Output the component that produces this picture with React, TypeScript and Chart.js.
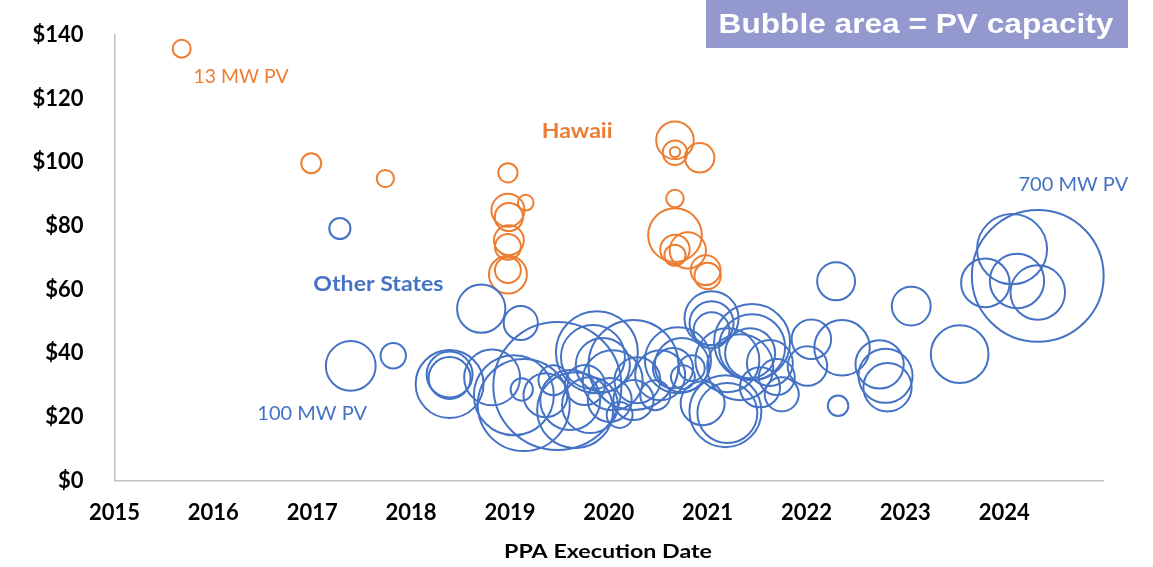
import React, { useEffect, useRef } from 'react';
import { Chart, registerables } from 'chart.js';

Chart.register(...registerables);

// ---- Data ----
const xTickValues = [2015, 2016, 2017, 2018, 2019, 2020, 2021, 2022, 2023, 2024];
const yTickValues = [0, 20, 40, 60, 80, 100, 120, 140];

// Hawaii (PPA execution date as decimal year, price $/MWh, PV capacity MW)
const hawaiiDate = [
  2015.68, 2016.99, 2017.74, 2018.98, 2019.16, 2018.98, 2018.99, 2018.99, 2018.98, 2018.98, 2018.98,
  2020.67, 2020.67, 2020.67, 2020.92, 2020.67, 2020.67, 2020.80, 2020.67, 2020.67, 2020.98, 2021.0,
];
const hawaiiPrice = [
  135.7, 99.7, 94.9, 96.7, 87.3, 84.9, 82.8, 75.5, 73.4, 64.7, 66.1,
  106.9, 103.0, 103.2, 101.4, 88.6, 77.1, 72.3, 72.6, 70.8, 66.1, 64.3,
];
const hawaiiMW = [
  13, 16, 12, 15, 10, 44, 32, 36, 27, 58, 27,
  57, 24, 4.4, 35, 12.5, 116, 53, 35, 18, 36, 28,
];

// Other States
const otherDate = [
  2017.28, 2017.39, 2017.82, 2018.71, 2019.11, 2022.30, 2023.06, 2023.55, 2024.34, 2024.08,
  2023.81, 2024.13, 2024.34, 2022.32, 2022.36, 2022.05, 2022.01, 2022.74, 2022.80, 2022.82,
  2021.75, 2018.39, 2018.39, 2018.39, 2018.82, 2019.12, 2019.04, 2019.14, 2019.48, 2019.44,
  2019.36, 2019.61, 2019.66, 2019.81, 2019.88, 2019.84, 2019.94, 2019.76, 2020.01, 2020.11,
  2020.04, 2020.25, 2020.29, 2020.25, 2020.70, 2020.74, 2020.65, 2020.84, 2020.75, 2021.04,
  2021.04, 2021.04, 2021.20, 2021.33, 2021.45, 2021.45, 2021.43, 2021.53, 2021.18, 2021.20,
  2020.95, 2021.70, 2021.63, 2020.47, 2020.52,
];
const otherPrice = [
  79.2, 36.0, 39.2, 54.0, 49.5, 62.6, 54.8, 39.7, 64.3, 72.7,
  62.1, 62.7, 59.1, 23.5, 41.7, 44.4, 36.0, 36.5, 32.9, 29.3,
  27.1, 30.3, 33.3, 32.2, 32.4, 28.6, 26.8, 23.7, 29.7, 31.5,
  26.8, 25.3, 22.1, 23.7, 40.3, 38.8, 36.3, 30.0, 25.3, 20.6,
  31.5, 36.3, 31.5, 25.3, 37.8, 36.3, 35.3, 35.3, 32.5, 51.0,
  49.4, 47.2, 37.8, 35.6, 43.5, 41.9, 40.0, 29.3, 21.8, 21.2,
  24.3, 32.5, 36.9, 26.8, 33.1,
];
const otherMW = [
  18, 100, 26, 94, 47, 58, 61, 134, 700, 198,
  95, 119, 120, 17, 124, 63, 63, 94, 118, 94,
  47, 186, 85, 71, 126, 20, 258, 341, 661, 36,
  78, 145, 233, 126, 271, 165, 118, 65, 78, 27,
  145, 327, 85, 65, 176, 118, 65, 27, 23, 118,
  78, 52, 165, 176, 233, 176, 101, 65, 209, 145,
  78, 52, 85, 36, 101,
];

const BLUE = '#4472C4';
const ORANGE = '#ED7D31';
const RADIUS_PER_SQRT_MW = 2.49;

const FONT = 'Lato, "Open Sans", sans-serif';

const annotations = [
  { text: '13 MW PV', x: 2016.28, y: 127.0, color: ORANGE, font: `20px ${FONT}`, sx: 0.97 },
  { text: 'Hawaii', x: 2019.68, y: 109.7, color: ORANGE, font: `bold 21px ${FONT}`, sx: 1.1 },
  { text: 'Other States', x: 2017.67, y: 61.7, color: BLUE, font: `bold 21px ${FONT}`, sx: 1.1 },
  { text: '100 MW PV', x: 2017.0, y: 20.9, color: BLUE, font: `20px ${FONT}`, sx: 1.0 },
  { text: '700 MW PV', x: 2024.7, y: 93.1, color: BLUE, font: `20px ${FONT}`, sx: 1.0 },
];

function toBubbles(xs: number[], ys: number[], mw: number[]) {
  return xs.map((x, i) => ({ x, y: ys[i], r: RADIUS_PER_SQRT_MW * Math.sqrt(mw[i]) }));
}

function drawScaledText(ctx: CanvasRenderingContext2D, text: string, x: number, y: number, sx: number) {
  ctx.save();
  ctx.translate(x, y);
  ctx.scale(sx, 1);
  ctx.fillText(text, 0, 0);
  ctx.restore();
}

const annotationPlugin = {
  id: 'annotations',
  afterDatasetsDraw(chart: any) {
    const { ctx, scales } = chart;
    const xs = scales.x;
    const ys = scales.y;
    ctx.save();
    ctx.textAlign = 'center';
    ctx.textBaseline = 'middle';
    for (const a of annotations) {
      ctx.font = a.font;
      ctx.fillStyle = a.color;
      drawScaledText(ctx, a.text, xs.getPixelForValue(a.x), ys.getPixelForValue(a.y), a.sx);
    }
    // axis title
    ctx.font = `bold 18px ${FONT}`;
    ctx.fillStyle = '#000';
    drawScaledText(ctx, 'PPA Execution Date', 608, 552, 1.29);
    // legend box
    ctx.fillStyle = '#9398CF';
    ctx.fillRect(706, 0, 422, 48);
    ctx.fillStyle = '#FFFFFF';
    ctx.font = 'bold 28px "Liberation Sans", Arial, sans-serif';
    ctx.textBaseline = 'alphabetic';
    drawScaledText(ctx, 'Bubble area = PV capacity', 916, 33, 1.13);
    ctx.restore();
  },
};

export default function App() {
  const canvasRef = useRef<HTMLCanvasElement | null>(null);

  useEffect(() => {
    document.body.style.margin = '0';
    const canvas = canvasRef.current;
    if (!canvas) return;
    const chart = new Chart(canvas, {
      type: 'bubble',
      data: {
        datasets: [
          {
            label: 'Other States',
            data: toBubbles(otherDate, otherPrice, otherMW),
            borderColor: BLUE,
            backgroundColor: 'rgba(0,0,0,0)',
            borderWidth: 2,
            hoverRadius: 0,
            clip: false,
          } as any,
          {
            label: 'Hawaii',
            data: toBubbles(hawaiiDate, hawaiiPrice, hawaiiMW),
            borderColor: ORANGE,
            backgroundColor: 'rgba(0,0,0,0)',
            borderWidth: 2,
            hoverRadius: 0,
            clip: false,
          } as any,
        ],
      },
      options: {
        animation: false,
        responsive: true,
        maintainAspectRatio: false,
        events: [],
        layout: { autoPadding: false, padding: { top: 35, right: 50, left: 0, bottom: 0 } },
        plugins: {
          legend: { display: false },
          tooltip: { enabled: false },
        },
        scales: {
          x: {
            type: 'linear',
            min: 2015,
            max: 2025,
            afterFit: (s: any) => {
              s.height = 86.5;
              s.paddingLeft = 0;
              s.paddingRight = 0;
            },
            afterBuildTicks: (s: any) => {
              s.ticks = xTickValues.map((v) => ({ value: v }));
            },
            grid: { display: false, drawTicks: false },
            border: { display: true, color: '#BFBFBF', width: 1.5 },
            ticks: {
              padding: 19,
              color: '#000',
              maxRotation: 0,
              autoSkip: false,
              font: { family: FONT, size: 22, weight: 'bold' },
              callback: (v: any) => String(v),
            },
          },
          y: {
            min: 0,
            max: 140,
            afterFit: (s: any) => {
              s.width = 114.5;
              s.paddingTop = 0;
              s.paddingBottom = 0;
            },
            afterBuildTicks: (s: any) => {
              s.ticks = yTickValues.map((v) => ({ value: v }));
            },
            grid: { display: false, drawTicks: false },
            border: { display: true, color: '#BFBFBF', width: 1.5 },
            ticks: {
              padding: 31,
              color: '#000',
              font: { family: FONT, size: 22, weight: 'bold' },
              callback: (v: any) => '$' + v,
            },
          },
        },
      } as any,
      plugins: [annotationPlugin],
    });
    return () => chart.destroy();
  }, []);

  return (
    <div style={{ position: 'relative', width: 1153, height: 567, background: '#fff' }}>
      <canvas ref={canvasRef} />
    </div>
  );
}
